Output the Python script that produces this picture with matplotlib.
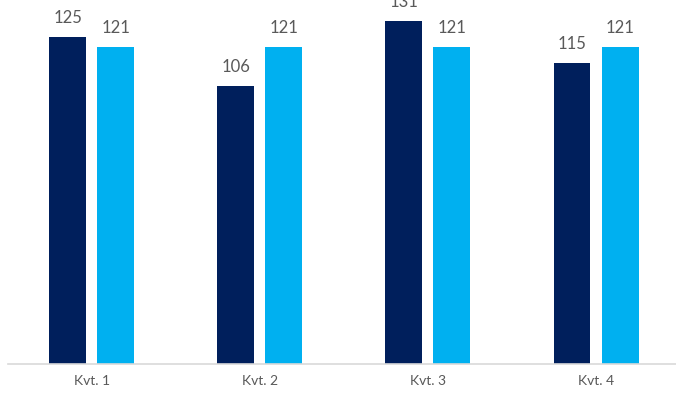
import numpy as np
import matplotlib.pyplot as plt

quarters = ['Kvt. 1', 'Kvt. 2', 'Kvt. 3', 'Kvt. 4']
actual = [125, 106, 131, 115]
target = [121, 121, 121, 121]

dark = '#001f5c'
light = '#00b0f0'
txt = '#595959'

fig = plt.figure(figsize=(6.76, 3.94), dpi=100)
ax = fig.add_axes([0.0111, 0.076, 0.995, 0.924])

x = np.arange(len(quarters))
w = 0.22
off = 0.143
b1 = ax.bar(x - off, actual, width=w, color=dark)
b2 = ax.bar(x + off, target, width=w, color=light)

for bars in (b1, b2):
    for b in bars:
        ax.annotate(str(int(b.get_height())), (b.get_x() + b.get_width() / 2, b.get_height()),
                    xytext=(0, 8), textcoords='offset points', ha='center', va='bottom',
                    fontsize=12, color=txt, family='Lato', annotation_clip=False)

ax.set_xlim(-0.5, 3.5)
ax.set_ylim(0, 139)
ax.set_xticks(x)
ax.set_xticklabels(quarters, fontsize=10, color=txt, family='Lato')
ax.tick_params(axis='x', length=0, pad=8)
ax.set_yticks([])
for s in ['top', 'right', 'left']:
    ax.spines[s].set_visible(False)
ax.spines['bottom'].set_color('#d9d9d9')
ax.spines['bottom'].set_linewidth(1.2)

fig.savefig('out.png', dpi=100)
